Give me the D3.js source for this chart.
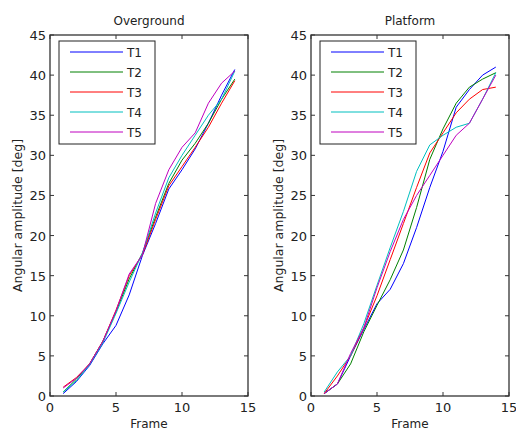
<!DOCTYPE html>
<html>
<head>
<meta charset="utf-8">
<script src="https://cdn.jsdelivr.net/npm/d3@7"></script>
<style>
  body { margin: 0; background: #fff; }
  svg { display: block; }
  text { font-family: "DejaVu Sans", sans-serif; fill: #222; }
</style>
</head>
<body>
<div id="wrapper"></div>
<script>
// data
const frames = [1, 2, 3, 4, 5, 6, 7, 8, 9, 10, 11, 12, 13, 14]
const seriesNames = ["T1", "T2", "T3", "T4", "T5"]
const seriesColors = ["#0000ff", "#008000", "#ff0000", "#00bfbf", "#bf00bf"]
const panelTitles = ["Overground", "Platform"]
const xTicks = [0, 5, 10, 15]
const yTicks = [0, 5, 10, 15, 20, 25, 30, 35, 40, 45]

const overgroundT1 = [0.3, 1.8, 3.8, 6.5, 8.8, 12.6, 17.5, 21.5, 25.8, 28.2, 30.8, 34.0, 37.5, 40.7]
const overgroundT2 = [0.5, 2.1, 4.0, 6.8, 10.5, 14.6, 17.8, 22.3, 26.5, 29.4, 31.5, 34.0, 37.0, 39.5]
const overgroundT3 = [1.1, 2.3, 4.0, 6.8, 10.7, 15.0, 17.6, 22.0, 26.2, 28.6, 31.0, 33.5, 36.5, 39.3]
const overgroundT4 = [0.5, 1.9, 3.9, 6.6, 10.3, 14.2, 17.8, 22.8, 27.2, 30.0, 32.5, 35.0, 37.0, 40.5]
const overgroundT5 = [1.0, 2.2, 4.0, 6.8, 10.6, 15.2, 17.6, 24.0, 28.2, 31.0, 32.8, 36.5, 39.0, 40.5]

const platformT1 = [0.3, 1.5, 5.0, 8.3, 11.5, 13.3, 16.5, 21.0, 26.0, 30.5, 36.0, 38.2, 40.0, 41.0]
const platformT2 = [0.3, 1.5, 4.0, 8.0, 11.3, 14.5, 18.2, 23.5, 29.5, 33.3, 36.5, 38.5, 39.5, 40.3]
const platformT3 = [0.3, 2.5, 5.0, 8.5, 12.5, 17.0, 21.5, 26.0, 30.3, 32.8, 35.3, 37.0, 38.2, 38.5]
const platformT4 = [0.5, 3.0, 5.0, 9.0, 13.8, 18.5, 23.0, 28.0, 31.3, 32.5, 33.5, 34.0, 37.0, 40.3]
const platformT5 = [0.3, 1.5, 5.3, 8.5, 13.5, 18.0, 22.0, 25.0, 27.5, 30.0, 32.5, 34.0, 37.0, 40.0]

const panels = [
  [overgroundT1, overgroundT2, overgroundT3, overgroundT4, overgroundT5],
  [platformT1, platformT2, platformT3, platformT4, platformT5],
]

// dimensions
const width = 516
const height = 430
const plotTop = 35
const plotBottom = 396
const panelLeft = [50, 311]
const panelWidth = 198
const tickLen = 4

const svg = d3.select("#wrapper")
  .append("svg")
    .attr("width", width)
    .attr("height", height)

const y = d3.scaleLinear().domain([0, 45]).range([plotBottom, plotTop])

panels.forEach((series, p) => {
  const x = d3.scaleLinear()
    .domain([0, 15])
    .range([panelLeft[p], panelLeft[p] + panelWidth])

  const g = svg.append("g")

  // lines
  const line = d3.line()
    .x((d, i) => x(frames[i]))
    .y(d => y(d))

  g.selectAll("path.series")
    .data(series)
    .join("path")
      .attr("class", "series")
      .attr("d", d => line(d))
      .attr("fill", "none")
      .attr("stroke", (d, i) => seriesColors[i])
      .attr("stroke-width", 1)

  // box
  g.append("rect")
    .attr("x", x(0))
    .attr("y", plotTop)
    .attr("width", panelWidth)
    .attr("height", plotBottom - plotTop)
    .attr("fill", "none")
    .attr("stroke", "#333")
    .attr("stroke-width", 1.3)

  // ticks inside, on all four sides
  xTicks.forEach(t => {
    g.append("line")
      .attr("x1", x(t)).attr("x2", x(t))
      .attr("y1", plotBottom).attr("y2", plotBottom - tickLen)
      .attr("stroke", "#333")
    g.append("line")
      .attr("x1", x(t)).attr("x2", x(t))
      .attr("y1", plotTop).attr("y2", plotTop + tickLen)
      .attr("stroke", "#333")
    g.append("text")
      .attr("x", x(t))
      .attr("y", plotBottom + 16)
      .attr("text-anchor", "middle")
      .attr("font-size", 13)
      .text(t)
  })
  yTicks.forEach(t => {
    g.append("line")
      .attr("x1", x(0)).attr("x2", x(0) + tickLen)
      .attr("y1", y(t)).attr("y2", y(t))
      .attr("stroke", "#333")
    g.append("line")
      .attr("x1", x(15)).attr("x2", x(15) - tickLen)
      .attr("y1", y(t)).attr("y2", y(t))
      .attr("stroke", "#333")
    g.append("text")
      .attr("x", x(0) - 4)
      .attr("y", y(t) + 5)
      .attr("text-anchor", "end")
      .attr("font-size", 13)
      .text(t)
  })

  // title + labels
  g.append("text")
    .attr("x", x(7.5))
    .attr("y", 25)
    .attr("text-anchor", "middle")
    .attr("font-size", 12)
    .text(panelTitles[p])

  g.append("text")
    .attr("x", x(7.5))
    .attr("y", 428)
    .attr("text-anchor", "middle")
    .attr("font-size", 12)
    .text("Frame")

  g.append("text")
    .attr("transform", `translate(${x(0) - 28},${(plotTop + plotBottom) / 2}) rotate(-90)`)
    .attr("text-anchor", "middle")
    .attr("font-size", 12.5)
    .text("Angular amplitude [deg]")

  // legend
  const lx = x(0) + 9
  const legend = g.append("g").attr("transform", `translate(${lx},41)`)
  legend.append("rect")
    .attr("width", 96)
    .attr("height", 103)
    .attr("fill", "#fff")
    .attr("stroke", "#222")
    .attr("stroke-width", 1)
  seriesNames.forEach((name, i) => {
    const ly = 11 + i * 20
    legend.append("line")
      .attr("x1", 11).attr("x2", 64)
      .attr("y1", ly).attr("y2", ly)
      .attr("stroke", seriesColors[i])
    legend.append("text")
      .attr("x", 68)
      .attr("y", ly + 5)
      .attr("font-size", 12)
      .text(name)
  })
})
</script>
</body>
</html>
